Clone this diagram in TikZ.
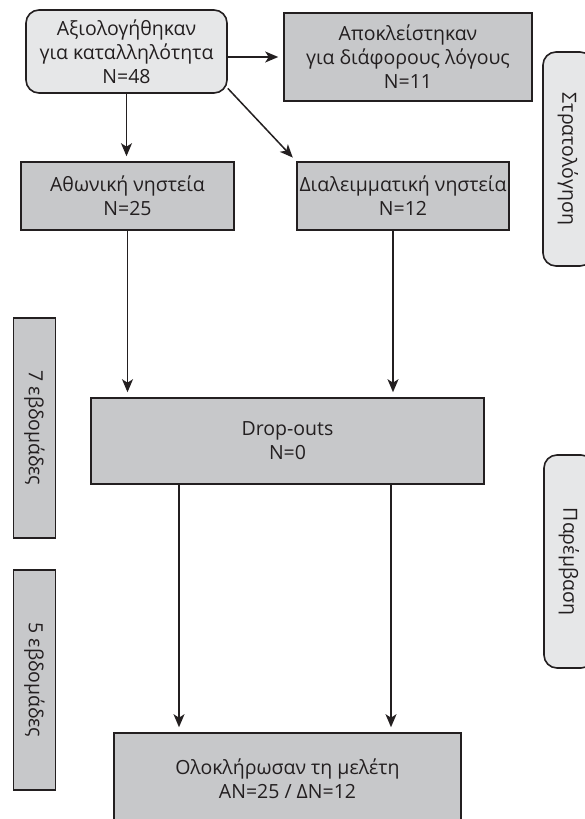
\documentclass[tikz,border=0pt]{standalone}
\usepackage{fontspec}
\setmainfont{Open Sans}
\usetikzlibrary{arrows.meta}
\definecolor{boxdark}{HTML}{C7C8CA}
\definecolor{boxlight}{HTML}{E6E7E8}
\definecolor{ink}{HTML}{231F20}
\begin{document}
\begin{tikzpicture}[x=1pt,y=-1pt,
  every node/.style={font=\fontsize{19.5}{24}\selectfont, text=ink},
  box/.style={draw=ink, line width=1.6pt, fill=boxdark, inner sep=0pt, align=center},
  roundbox/.style={box, fill=boxlight, rounded corners=13pt},
  arr/.style={draw=ink, line width=1.5pt, -{Stealth[length=13pt,width=11pt,inset=3.5pt]}, shorten >=5pt}]
\clip (0,0) rectangle (585,819);
\fill[white] (0,0) rectangle (585,819);

\node[roundbox, minimum width=201pt, minimum height=83pt] (assess) at (126.5,51.5) {Αξιολογήθηκαν\\για καταλληλότητα\\N=48};
\node[box, minimum width=248pt, minimum height=88pt] (excl) at (408,57) {Αποκλείστηκαν\\για διάφορους λόγους\\N=11};
\node[box, minimum width=213pt, minimum height=68pt] (fast) at (127.5,196) {Αθωνική νηστεία\\N=25};
\node[box, minimum width=212pt, minimum height=68pt] (inter) at (403,196) {Διαλειμματική νηστεία\\N=12};
\node[box, minimum width=393pt, minimum height=86pt] (drop) at (287.5,441) {Drop-outs\\N=0};
\node[box, minimum width=347pt, minimum height=92pt] (done) at (287.5,779) {Ολοκλήρωσαν τη μελέτη\\ΑΝ=25 / ΔΝ=12};

\node[roundbox, rotate=-90, minimum width=214pt, minimum height=50pt] (recruit) at (568,159) {Στρατολόγηση};
\node[roundbox, rotate=-90, minimum width=213pt, minimum height=50pt] (interv) at (569,561.5) {Παρέμβαση};
\node[box, rotate=-90, minimum width=220pt, minimum height=42pt] (w7) at (34.5,428) {7 εβδομάδες};
\node[box, rotate=-90, minimum width=220pt, minimum height=42pt] (w5) at (34.5,680) {5 εβδομάδες};

\draw[arr] (excl.west -| assess.east) -- (excl.west);
\draw[arr] (assess.south) -- (assess.south |- fast.north);
\draw[arr] (assess.-20) -- (inter.north west);
\draw[arr] (fast.south) -- (fast.south |- drop.north);
\draw[arr] ([xshift=-10pt]inter.south) -- ([xshift=-10pt]inter.south |- drop.north);
\draw[arr] ([xshift=-108.5pt]drop.south) -- ([xshift=-108.5pt]drop.south |- done.north);
\draw[arr] ([xshift=103.5pt]drop.south) -- ([xshift=103.5pt]drop.south |- done.north);
\end{tikzpicture}
\end{document}
